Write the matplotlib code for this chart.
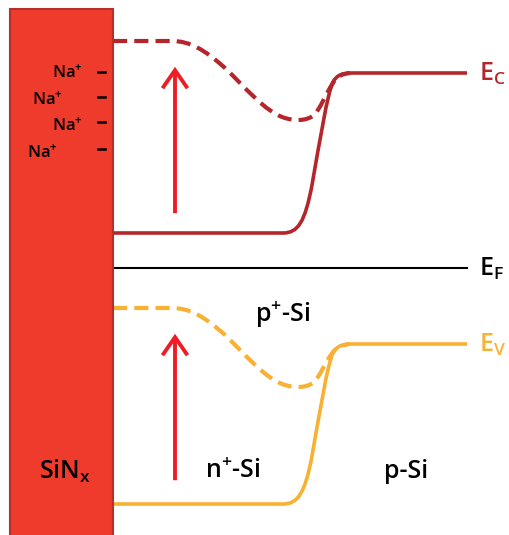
import matplotlib
matplotlib.use('Agg')
import matplotlib.pyplot as plt
from matplotlib.path import Path
from matplotlib.patches import PathPatch, Rectangle, FancyArrowPatch

plt.rcParams['font.family'] = ['Open Sans', 'DejaVu Sans']
plt.rcParams['font.weight'] = 'semibold'
plt.rcParams['mathtext.fontset'] = 'custom'
plt.rcParams['mathtext.rm'] = 'Open Sans:semibold'
plt.rcParams['mathtext.it'] = 'Open Sans:semibold'

# band diagram, image-like coordinates (y grows downward)
# each curve: start point, then straight/cubic segments
ec_solid = [(113, 233), ('L', 283, 233),
            ('C', 298, 233, 305, 222, 312, 185),
            ('C', 320, 140, 327, 95, 333, 82),
            ('C', 337, 75, 342, 73, 352, 73), ('L', 467, 73)]
ec_dash = [(113, 41), ('L', 172, 41),
           ('C', 190, 41, 205, 50, 225, 68),
           ('C', 245, 87, 265, 112, 285, 118),
           ('C', 295, 121, 305, 121, 313, 116),
           ('C', 320, 110, 325, 95, 333, 83),
           ('C', 337, 76, 342, 74, 350, 73)]
ev_solid = [(113, 504), ('L', 283, 504),
            ('C', 298, 504, 305, 493, 312, 456),
            ('C', 320, 411, 327, 366, 333, 353),
            ('C', 337, 346, 342, 344, 352, 344), ('L', 467, 344)]
ev_dash = [(113, 308), ('L', 172, 308),
           ('C', 190, 308, 205, 317, 225, 335),
           ('C', 245, 354, 265, 379, 285, 385),
           ('C', 295, 388, 305, 388, 313, 383),
           ('C', 320, 377, 325, 362, 333, 352),
           ('C', 337, 347, 342, 345, 350, 344)]
ef_y = 268
ef_x = (113, 467)

arrows = [(175, 216, 64), (175, 483, 331)]

na_labels = [r'Na$^{+}$'] * 4
na_x = [83, 63, 83, 58]
na_y = [73, 100, 126, 153]
minus_y = [72, 97, 122, 149]

c_ec = '#B4262B'
c_ev = '#F8B133'
c_arrow = '#EE1D25'
c_sin = '#EE3B2C'


def make_path(pts):
    verts = [pts[0]]
    codes = [Path.MOVETO]
    for seg in pts[1:]:
        if seg[0] == 'L':
            verts.append(seg[1:3])
            codes.append(Path.LINETO)
        else:
            v = seg[1:]
            verts += [v[0:2], v[2:4], v[4:6]]
            codes += [Path.CURVE4] * 3
    return Path(verts, codes)


fig = plt.figure(figsize=(5.10, 5.35), dpi=100)
ax = fig.add_axes([0, 0, 1, 1])
ax.set_xlim(0, 510)
ax.set_ylim(535, 0)
ax.axis('off')

ax.add_patch(Rectangle((10, 9), 103, 540, facecolor=c_sin,
                       edgecolor='#B5302A', lw=1.5, zorder=3))

ax.add_patch(PathPatch(make_path(ec_solid), fill=False, ec=c_ec, lw=2.6, zorder=2))
ax.add_patch(PathPatch(make_path(ec_dash), fill=False, ec=c_ec, lw=3.0,
                       ls=(0, (3.4, 1.7)), zorder=2))
ax.add_patch(PathPatch(make_path(ev_solid), fill=False, ec=c_ev, lw=2.6, zorder=2))
ax.add_patch(PathPatch(make_path(ev_dash), fill=False, ec=c_ev, lw=3.0,
                       ls=(0, (3.4, 1.7)), zorder=2))
ax.plot(ef_x, [ef_y, ef_y], color='black', lw=1.5)

for x, y0, y1 in arrows:
    ax.add_patch(FancyArrowPatch((x, y0), (x, y1),
                                 arrowstyle='->,head_length=13,head_width=9',
                                 color=c_arrow, lw=2.8, mutation_scale=1,
                                 capstyle='butt', joinstyle='miter', zorder=4))

ax.text(479, 74, r'E$_{\mathregular{C}}$', color=c_ec, fontsize=18, va='center')
ax.text(479, 269, r'E$_{\mathregular{F}}$', color='black', fontsize=18, va='center')
ax.text(479, 345, r'E$_{\mathregular{V}}$', color=c_ev, fontsize=18, va='center')

for lab, x, y in zip(na_labels, na_x, na_y):
    ax.text(x, y, lab, fontsize=12, ha='right', va='center', zorder=5)
for y in minus_y:
    ax.plot([98, 105], [y, y], color='black', lw=1.8, zorder=5)

ax.text(65, 471, r'SiN$_{\mathregular{x}}$', fontsize=18, ha='center', va='center', zorder=5)
ax.text(283, 315, r'p$^{+}$-Si', fontsize=18, ha='center', va='center')
ax.text(233, 472, r'n$^{+}$-Si', fontsize=18, ha='center', va='center')
ax.text(406, 472, 'p-Si', fontsize=18, ha='center', va='center')

fig.savefig('out.png', dpi=100)
